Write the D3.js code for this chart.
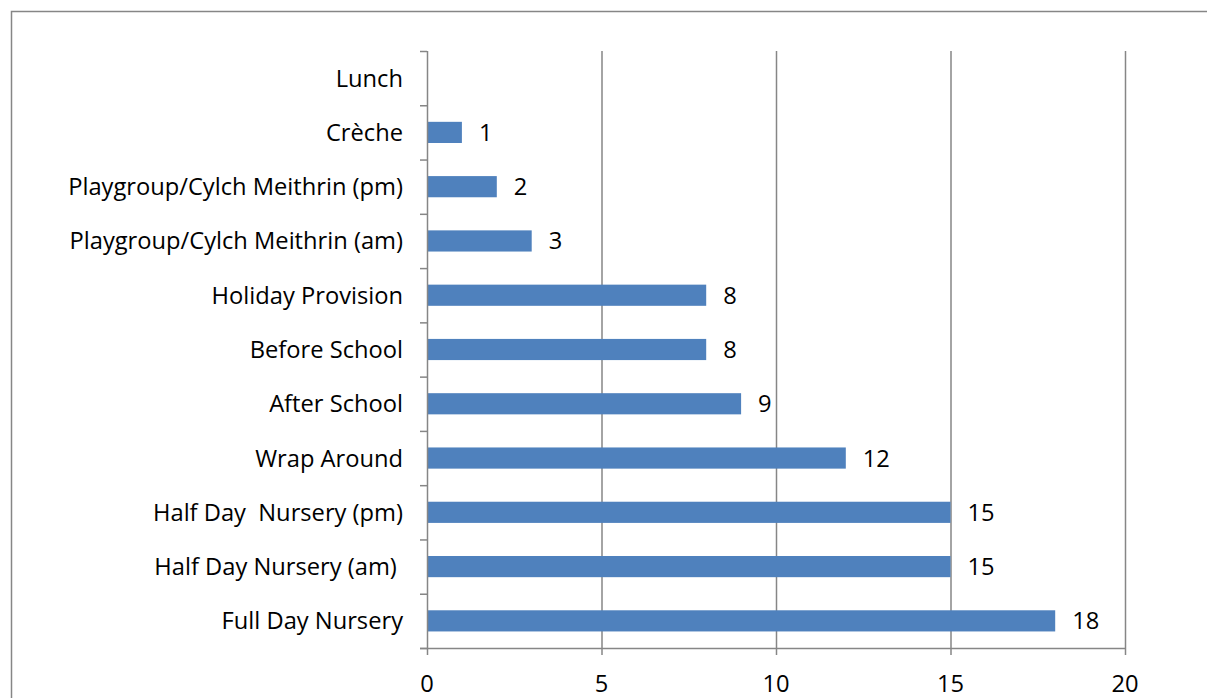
<!DOCTYPE html>
<html>
<head>
<meta charset="utf-8">
<script src="https://cdnjs.cloudflare.com/ajax/libs/d3/7.8.5/d3.min.js"></script>
<style>
  html, body { margin: 0; padding: 0; background: #fff; overflow: hidden; }
  svg { display: block; }
  svg text { font-family: "Open Sans", "Liberation Sans", sans-serif; fill: #000; }
</style>
</head>
<body>
<div id="chart"></div>
<script>
// categories top to bottom, as drawn
var categories = ["Lunch", "Crèche", "Playgroup/Cylch Meithrin (pm)", "Playgroup/Cylch Meithrin (am)",
  "Holiday Provision", "Before School", "After School", "Wrap Around",
  "Half Day  Nursery (pm)", "Half Day Nursery (am) ", "Full Day Nursery"];
var values = [null, 1, 2, 3, 8, 8, 9, 12, 15, 15, 18];
var xTicks = [0, 5, 10, 15, 20];

var W = 1207, H = 698;
var m = { left: 427, right: 82, top: 51, bottom: 50 };
var fs = 23.7;

var svg = d3.select("#chart").append("svg")
  .attr("width", W).attr("height", H);

// outer chart border: only the top and left edges show in the picture
svg.append("path")
  .attr("d", "M11.5," + H + "V11.5H" + W)
  .attr("fill", "none").attr("stroke", "#868686").attr("stroke-width", 1.5);

var x = d3.scaleLinear().domain([0, 20]).range([m.left, W - m.right]);
var y = d3.scaleBand().domain(categories).range([m.top, H - m.bottom]).paddingInner(0.61).paddingOuter(0.305);

var plotTop = m.top, plotBottom = H - m.bottom;

// vertical gridlines (with ticks below axis)
svg.append("g").selectAll("line").data(xTicks.slice(1)).join("line")
  .attr("x1", d => x(d) + 0.5).attr("x2", d => x(d) + 0.5)
  .attr("y1", plotTop).attr("y2", plotBottom + 7)
  .attr("stroke", "#868686").attr("stroke-width", 1.5);

var rows = categories.map((c, i) => ({ c: c, v: values[i] })).filter(d => d.v != null);

// bars
svg.append("g").selectAll("rect").data(rows).join("rect")
  .attr("x", x(0)).attr("y", d => y(d.c))
  .attr("width", d => x(d.v) - x(0)).attr("height", y.bandwidth())
  .attr("fill", "#4F81BD");

// data labels
svg.append("g").selectAll("text").data(rows).join("text")
  .attr("x", d => x(d.v) + 17).attr("y", d => y(d.c) + y.bandwidth() / 2)
  .attr("dy", "0.36em").attr("font-size", fs)
  .text(d => d.v);

// y axis
var step = (plotBottom - plotTop) / categories.length;
var yAxis = svg.append("g");
yAxis.append("line")
  .attr("x1", x(0) + 0.5).attr("x2", x(0) + 0.5)
  .attr("y1", plotTop).attr("y2", plotBottom + 7)
  .attr("stroke", "#868686").attr("stroke-width", 1.5);
yAxis.selectAll("line.tick").data(d3.range(categories.length + 1)).join("line")
  .attr("class", "tick")
  .attr("x1", x(0) - 7).attr("x2", x(0))
  .attr("y1", i => plotTop + i * step + 0.5).attr("y2", i => plotTop + i * step + 0.5)
  .attr("stroke", "#868686").attr("stroke-width", 1.5);
yAxis.selectAll("text").data(categories).join("text")
  .attr("x", x(0) - 24).attr("y", d => y(d) + y.bandwidth() / 2)
  .attr("dy", "0.36em").attr("text-anchor", "end").attr("font-size", fs)
  .style("white-space", "pre").attr("xml:space", "preserve")
  .text(d => d);

// x axis
var xAxis = svg.append("g");
xAxis.append("line")
  .attr("x1", x(0) - 7).attr("x2", x(20) + 1)
  .attr("y1", plotBottom + 0.5).attr("y2", plotBottom + 0.5)
  .attr("stroke", "#868686").attr("stroke-width", 1.5);
xAxis.selectAll("text").data(xTicks).join("text")
  .attr("x", d => x(d)).attr("y", plotBottom + 35)
  .attr("dy", "0.36em").attr("text-anchor", "middle").attr("font-size", fs)
  .text(d => d);
</script>
</body>
</html>
